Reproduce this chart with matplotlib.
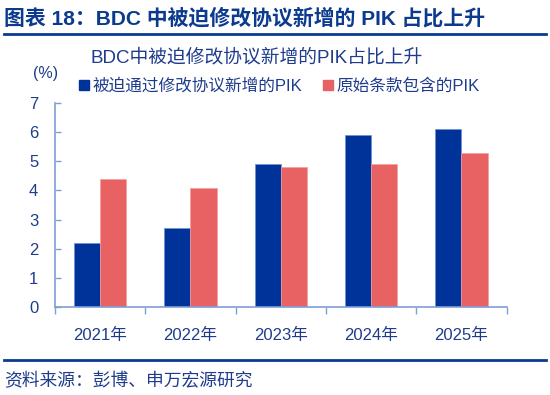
import numpy as np
import matplotlib
matplotlib.use("Agg")
import matplotlib.pyplot as plt
from matplotlib.lines import Line2D

plt.rcParams['font.family'] = ['Liberation Sans', 'Noto Sans CJK SC']

years = ['2021年', '2022年', '2023年', '2024年', '2025年']
forced_pik = [2.2, 2.7, 4.9, 5.9, 6.1]
original_pik = [4.4, 4.1, 4.8, 4.9, 5.3]
series_names = ['被迫通过修改协议新增的PIK', '原始条款包含的PIK']

blue = '#003399'
red = '#E86163'
text_blue = '#1F3C8C'
axis_blue = '#7F9ED8'
header_blue = '#0B3A8F'

fig = plt.figure(figsize=(5.5, 3.95), dpi=100)
ax = fig.add_axes([0.1, 0.2235, 0.821, 0.515])

x = np.arange(len(years))
w = 0.29
ax.bar(x - w / 2, forced_pik, w, color=blue, edgecolor='#6F8FD0', linewidth=0.5, label=series_names[0])
ax.bar(x + w / 2, original_pik, w, color=red, edgecolor='#F2A0A0', linewidth=0.5, label=series_names[1])

ax.set_xlim(-0.5, len(years) - 0.5)
ax.set_ylim(0, 7)
ax.set_yticks(range(0, 8))
ax.set_xticks(x)
ax.set_xticklabels(years)
ax.set_xticks(np.arange(-0.5, len(years), 1), minor=True)
ax.tick_params(axis='x', which='major', length=0, pad=15, labelsize=12, labelcolor=text_blue)
ax.tick_params(axis='x', which='minor', length=5, direction='out', color=axis_blue, width=1)
ax.tick_params(axis='y', length=4, direction='in', color=axis_blue, width=1, labelsize=12,
               labelcolor=text_blue, pad=12)
for s in ['top', 'right']:
    ax.spines[s].set_visible(False)
for s in ['left', 'bottom']:
    ax.spines[s].set_color(axis_blue)
    ax.spines[s].set_linewidth(1.2)

# chart title and unit
fig.text(0.467, 0.855, 'BDC中被迫修改协议新增的PIK占比上升', ha='center', va='center',
         fontsize=13.5, color=text_blue)
fig.text(0.083, 0.815, '(%)', ha='center', va='center', fontsize=11.5, color=text_blue)

handles = [Line2D([0], [0], marker='s', color='none', markerfacecolor=blue, markeredgecolor=blue, markersize=7),
           Line2D([0], [0], marker='s', color='none', markerfacecolor=red, markeredgecolor=red, markersize=7)]
leg = fig.legend(handles, series_names, loc='center', bbox_to_anchor=(0.508, 0.782), ncol=2,
                 frameon=False, fontsize=12, handlelength=0.6, handletextpad=0.2, columnspacing=1.3)
for t in leg.get_texts():
    t.set_color(text_blue)

# header and footer
fig.text(0.008, 0.953, '图表 18：BDC 中被迫修改协议新增的 PIK 占比上升', ha='left', va='center',
         fontsize=15, fontweight='bold', color=header_blue)
fig.add_artist(Line2D([0.008, 0.992], [0.913, 0.913], color=header_blue, linewidth=2))
fig.add_artist(Line2D([0.008, 0.992], [0.088, 0.088], color=header_blue, linewidth=2))
fig.text(0.008, 0.035, '资料来源：彭博、申万宏源研究', ha='left', va='center', fontsize=12.8, color=text_blue)

fig.savefig('out.png', dpi=100)
